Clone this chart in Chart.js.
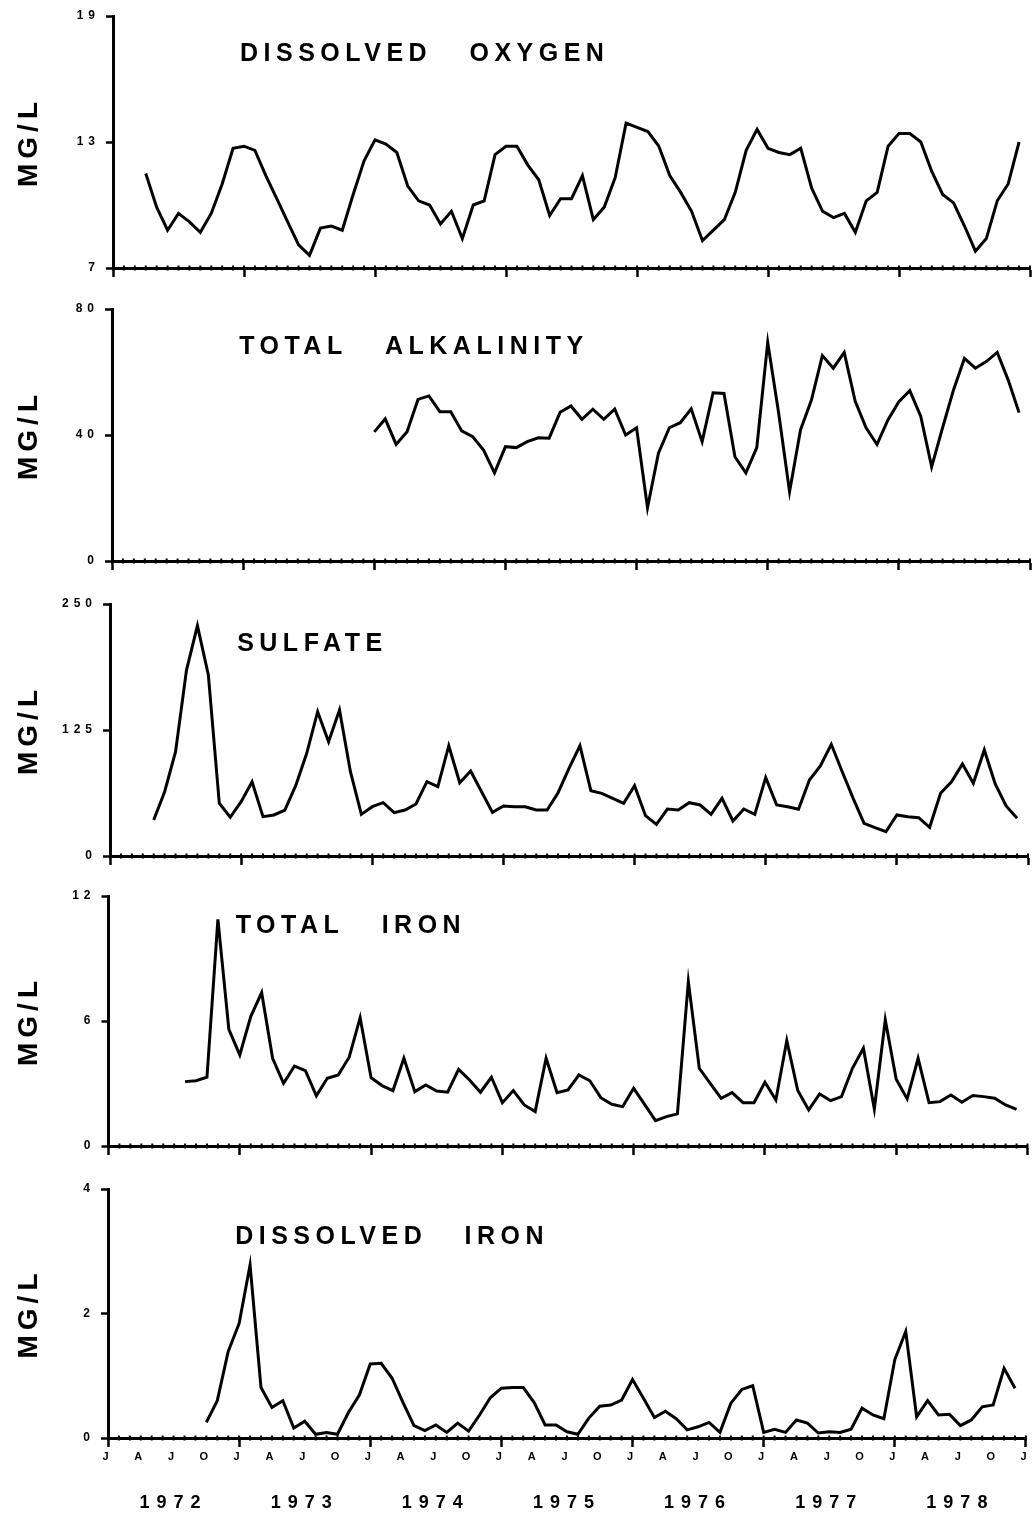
<!DOCTYPE html>
<html>
<head>
<meta charset="utf-8">
<title>Water quality 1972-1978</title>
<script src="https://cdn.jsdelivr.net/npm/chart.js@4/dist/chart.umd.min.js"></script>
<style>
  html, body { margin: 0; padding: 0; background: #fff; }
  #page { position: relative; width: 1032px; height: 1513px; overflow: hidden; }
  #page canvas { position: absolute; left: 0; }
</style>
</head>
<body>
<div id="page">
  <canvas id="oxygenChart"></canvas>
  <canvas id="alkalinityChart"></canvas>
  <canvas id="sulfateChart"></canvas>
  <canvas id="totalIronChart"></canvas>
  <canvas id="dissolvedIronChart"></canvas>
</div>
<script>
// Monthly samples; month 0 = January 1972, month 84 = January 1979
const spanMonths = 84;

const oxygenStart = 3;
const oxygen = [
  11.5, 9.9, 8.8, 9.6, 9.2, 8.7, 9.6, 11.0, 12.7,
  12.8, 12.6, 11.4, 10.3, 9.2, 8.1, 7.6, 8.9, 9.0, 8.8, 10.5, 12.1,
  13.1, 12.9, 12.5, 10.9, 10.2, 10.0, 9.1, 9.7, 8.4, 10.0, 10.2, 12.4,
  12.8, 12.8, 11.9, 11.2, 9.5, 10.3, 10.3, 11.4, 9.3, 9.9, 11.3, 13.9,
  13.7, 13.5, 12.8, 11.4, 10.6, 9.7, 8.3, 8.8, 9.3, 10.6, 12.6, 13.6,
  12.7, 12.5, 12.4, 12.7, 10.8, 9.7, 9.4, 9.6, 8.7, 10.2, 10.6, 12.8,
  13.4, 13.4, 13.0, 11.6, 10.5, 10.1, 9.0, 7.8, 8.4, 10.2, 11.0, 13.0
];

const alkalinityStart = 24;
const alkalinity = [
  41.0, 45.1, 37.0, 41.0, 51.3, 52.4, 47.4, 47.4, 41.3, 39.5, 35.2, 28.0,
  36.3, 36.0, 37.9, 39.1, 39.0, 47.2, 49.2, 45.0, 48.2, 45.0, 48.2, 40.0,
  42.3, 16.9, 34.2, 42.3, 43.9, 48.3, 37.9, 53.4, 53.2, 33.1, 28.0, 36.0,
  69.4, 47.0, 22.0, 41.6, 51.1, 65.2, 61.2, 66.2, 50.8, 42.3, 37.0, 44.8,
  50.6, 54.1, 46.0, 29.9, 42.3, 54.3, 64.3, 61.2, 63.3, 66.2, 57.5, 47.1
];

const sulfateStart = 4;
const sulfate = [
  35.7, 63.8, 103.5, 184.5, 228.5, 179.6, 52.3, 38.4,
  53.9, 73.7, 39.0, 40.7, 45.6, 70.0, 101.9, 143.2, 113.4, 144.8, 83.6, 41.3,
  48.9, 52.9, 43.0, 45.6, 51.6, 73.7, 68.8, 109.4, 72.7, 84.3, 63.8, 43.3,
  49.6, 48.9, 48.9, 45.6, 45.6, 62.8, 87.0, 109.4, 64.8, 62.2, 57.2, 52.3,
  69.7, 40.0, 31.4, 46.6, 45.6, 52.9, 50.6, 41.3, 57.2, 34.7, 46.6, 41.3,
  77.7, 50.6, 48.9, 46.3, 75.4, 89.3, 110.8, 83.6, 57.2, 32.4, 28.1, 24.1,
  40.7, 39.0, 38.0, 28.5, 62.2, 73.7, 91.3, 72.1, 105.2, 71.4, 49.6, 37.4
];

const totalIronStart = 7;
const totalIron = [
  3.09, 3.13, 3.30, 10.88, 5.60,
  4.37, 6.21, 7.36, 4.21, 3.01, 3.84, 3.62, 2.41, 3.25, 3.41, 4.26, 6.16,
  3.28, 2.90, 2.66, 4.21, 2.61, 2.93, 2.64, 2.58, 3.68, 3.17, 2.58, 3.30,
  2.08, 2.66, 1.97, 1.65, 4.21, 2.56, 2.69, 3.41, 3.13, 2.32, 2.00, 1.89,
  2.77, 2.00, 1.22, 1.41, 1.54, 7.89, 3.73, 3.01, 2.29, 2.56, 2.08, 2.08,
  3.06, 2.21, 5.06, 2.66, 1.73, 2.50, 2.18, 2.37, 3.73, 4.69, 1.78, 6.05,
  3.20, 2.26, 4.21, 2.08, 2.13, 2.45, 2.10, 2.42, 2.37, 2.29, 1.97, 1.76
];

const dissolvedIronStart = 9;
const dissolvedIron = [
  0.25, 0.60, 1.39,
  1.84, 2.78, 0.81, 0.49, 0.60, 0.16, 0.27, 0.06, 0.09, 0.06, 0.41, 0.69,
  1.19, 1.20, 0.96, 0.57, 0.20, 0.12, 0.21, 0.09, 0.24, 0.11, 0.37, 0.65,
  0.80, 0.81, 0.81, 0.57, 0.21, 0.21, 0.10, 0.06, 0.32, 0.51, 0.53, 0.61,
  0.94, 0.64, 0.33, 0.43, 0.31, 0.13, 0.18, 0.25, 0.09, 0.56, 0.78, 0.84,
  0.09, 0.14, 0.09, 0.29, 0.24, 0.08, 0.10, 0.09, 0.14, 0.48, 0.37, 0.31,
  1.26, 1.71, 0.34, 0.60, 0.37, 0.38, 0.20, 0.29, 0.50, 0.53, 1.12, 0.80
];

// Axis labels
const quarterLetters = ['J', 'A', 'J', 'O'];
const years = [1972, 1973, 1974, 1975, 1976, 1977, 1978];
const unitLabel = 'MG/L';

const FONT = '"Liberation Sans", Arial, sans-serif';
const TOP_ROOM = 16;

// One panel per parameter; top/bottom/left/right is the plot box on the page
const panels = [
  { id: 'oxygenChart', name: 'DISSOLVED   OXYGEN', start: oxygenStart, values: oxygen,
    min: 7, max: 19, top: 16, bottom: 268, left: 113, right: 1030, nameDy: 38 },
  { id: 'alkalinityChart', name: 'TOTAL   ALKALINITY', start: alkalinityStart, values: alkalinity,
    min: 0, max: 80, top: 309, bottom: 561, left: 112, right: 1030, nameDy: 38 },
  { id: 'sulfateChart', name: 'SULFATE', start: sulfateStart, values: sulfate,
    min: 0, max: 250, top: 604, bottom: 856, left: 110, right: 1028, nameDy: 40 },
  { id: 'totalIronChart', name: 'TOTAL   IRON', start: totalIronStart, values: totalIron,
    min: 0, max: 12, top: 896, bottom: 1146, left: 108.5, right: 1027.5, nameDy: 30 },
  { id: 'dissolvedIronChart', name: 'DISSOLVED   IRON', start: dissolvedIronStart, values: dissolvedIron,
    min: 0, max: 4, top: 1189, bottom: 1438, left: 108, right: 1027, nameDy: 48 }
];

// Wide letter spacing for the axis text; the year row gets a bit more
const spacing = {
  id: 'spacing',
  beforeDraw(chart) { chart.ctx.letterSpacing = '5px'; },
  afterDatasetsDraw(chart) { chart.ctx.letterSpacing = '7px'; },
  afterDraw(chart) { chart.ctx.letterSpacing = '0px'; }
};

// Small monthly marks along the time axis
const monthTicks = {
  id: 'monthTicks',
  afterDraw(chart) {
    const { ctx, chartArea, scales } = chart;
    ctx.save();
    ctx.fillStyle = '#000';
    for (let m = 0; m <= spanMonths; m++) {
      const x = scales.x.getPixelForValue(m);
      ctx.fillRect(x - 1, chartArea.bottom - 2.5, 2, 5);
    }
    ctx.restore();
  }
};

// Parameter name printed inside the plot, starting at January 1973
const panelName = {
  id: 'panelName',
  afterDraw(chart, args, opts) {
    const { ctx, chartArea, scales } = chart;
    ctx.save();
    ctx.letterSpacing = '5.5px';
    ctx.font = 'bold 25px ' + FONT;
    ctx.fillStyle = '#000';
    ctx.textAlign = 'left';
    ctx.textBaseline = 'middle';
    ctx.fillText(opts.text, scales.x.getPixelForValue(12) - 4, chartArea.top + opts.dy);
    ctx.restore();
  }
};

function buildChart(p, isLast) {
  const canvas = document.getElementById(p.id);
  const xHeight = isLast ? 30 : 24;
  const yearHeight = isLast ? 45 : 0;
  canvas.width = 1032;
  canvas.height = TOP_ROOM + (p.bottom - p.top) + xHeight + yearHeight;
  canvas.style.top = (p.top - TOP_ROOM) + 'px';

  const points = p.values.map((v, i) => ({ x: p.start + i, y: v }));

  const scales = {
    x: {
      type: 'linear',
      position: 'bottom',
      min: 0,
      max: spanMonths,
      afterFit: s => { s.height = xHeight; },
      grid: {
        drawOnChartArea: false,
        tickLength: 9,
        tickColor: '#000',
        tickWidth: c => (c.tick && c.tick.value % 12 === 0) ? 2.5 : 0
      },
      border: { color: '#000', width: 3 },
      ticks: {
        display: isLast,
        stepSize: 3,
        autoSkip: false,
        maxRotation: 0,
        padding: 3,
        color: '#000',
        font: { family: FONT, size: 11, weight: 'bold' },
        callback: v => quarterLetters[(v / 3) % 4]
      }
    },
    y: {
      type: 'linear',
      position: 'left',
      min: p.min,
      max: p.max,
      afterFit: s => { s.width = p.left; },
      grid: { drawOnChartArea: false, tickLength: 7, tickWidth: 2.5, tickColor: '#000' },
      border: { color: '#000', width: 3 },
      ticks: {
        stepSize: (p.max - p.min) / 2,
        padding: 6,
        color: '#000',
        font: { family: FONT, size: 12, weight: 'bold' }
      },
      title: {
        display: true,
        text: unitLabel,
        color: '#000',
        font: { family: FONT, size: 28, weight: 'bold' },
        padding: { top: 12, bottom: 0 }
      }
    }
  };

  if (isLast) {
    scales.years = {
      type: 'linear',
      axis: 'x',
      position: 'bottom',
      weight: 1,
      min: 0,
      max: spanMonths,
      afterBuildTicks: s => { s.ticks = years.map((y, i) => ({ value: 12 * i + 6 })); },
      afterFit: s => { s.height = yearHeight; },
      grid: { display: false, drawTicks: false },
      border: { display: false },
      ticks: {
        z: 1,
        autoSkip: false,
        maxRotation: 0,
        padding: 24,
        color: '#000',
        font: { family: FONT, size: 18, weight: 'bold' },
        callback: (v, i) => String(years[i])
      }
    };
  }

  return new Chart(canvas, {
    type: 'line',
    data: {
      datasets: [{
        label: p.name,
        data: points,
        xAxisID: 'x',
        yAxisID: 'y',
        borderColor: '#000',
        borderWidth: 3,
        pointRadius: 0,
        fill: false,
        tension: 0
      }]
    },
    options: {
      responsive: false,
      animation: false,
      devicePixelRatio: 1,
      events: [],
      layout: { padding: { top: TOP_ROOM, left: 0, right: 1032 - p.right, bottom: 0 } },
      scales: scales,
      plugins: {
        legend: { display: false },
        tooltip: { enabled: false },
        panelName: { text: p.name, dy: p.nameDy }
      }
    },
    plugins: [spacing, monthTicks, panelName]
  });
}

panels.forEach((p, i) => buildChart(p, i === panels.length - 1));
</script>
</body>
</html>
